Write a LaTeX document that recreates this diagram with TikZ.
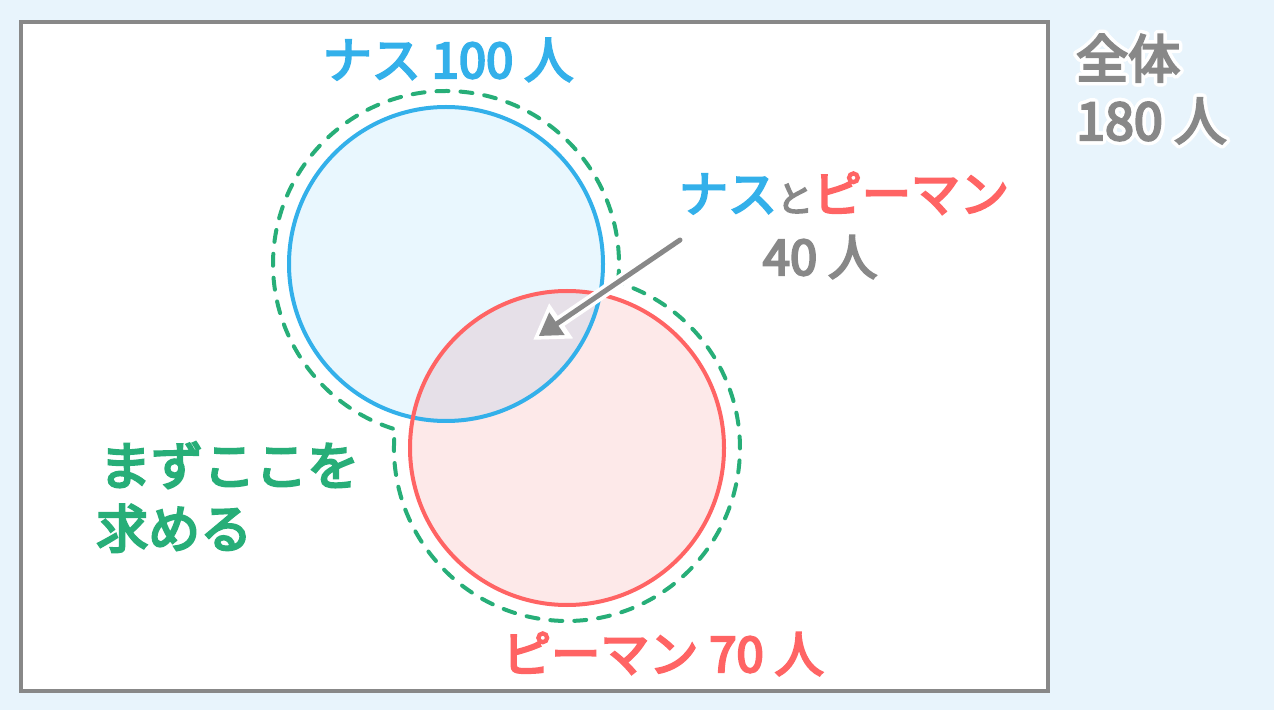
\documentclass[tikz,border=0pt]{standalone}
\usepackage{fontspec}
\newfontfamily\jp{Noto Sans CJK JP}[FakeBold=4.5]
\usetikzlibrary{arrows.meta}
\definecolor{bgc}{HTML}{E8F4FC}
\definecolor{graybd}{HTML}{888888}
\definecolor{graytx}{HTML}{888888}
\definecolor{bluec}{HTML}{33B0EA}
\definecolor{bluefill}{HTML}{E9F7FE}
\definecolor{redc}{HTML}{FF6464}
\definecolor{redfill}{HTML}{FDE9E9}
\definecolor{overlapc}{HTML}{E6E0E8}
\definecolor{greenc}{HTML}{27AE78}
\begin{document}
\begin{tikzpicture}[x=1pt,y=1pt,
  lbl/.style={inner sep=0pt, font=\jp\fontsize{49}{49}\selectfont},
  biglbl/.style={inner sep=0pt, font=\jp\fontsize{52}{52}\selectfont},
  ring/.style={line width=4pt},
  outlinedash/.style={greenc, line width=4pt, line cap=round, dash pattern=on 12pt off 12pt}]
\useasboundingbox (0,0) rectangle (1274,710);
\fill[bgc] (0,0) rectangle (1274,710);
\draw[line width=4pt, graybd, fill=white] (21,19) rectangle (1048,688);
\coordinate (A) at (446,446);
\coordinate (B) at (567,262);
\fill[bluefill] (A) circle[radius=157];
\fill[redfill] (B) circle[radius=157];
\begin{scope}
  \clip (A) circle[radius=157];
  \fill[overlapc] (B) circle[radius=157];
\end{scope}
\draw[ring, bluec] (A) circle[radius=157];
\draw[ring, redc] (B) circle[radius=157];
% dashed outline of union (offset 16)
\draw[outlinedash] (A) ++(-6.2:173) arc[start angle=-6.2, end angle=252.85, radius=173]
  arc[start angle=173.8, end angle=432.85, radius=173] -- cycle;
% arrow
\coordinate (arS) at (680,470);
\coordinate (arE) at (533,370);
\draw[white, line width=12pt, -{Triangle[length=34pt,width=40pt]}] (arS) -- (arE);
\draw[graytx, line width=5pt, line cap=round, shorten >=7pt, -{Triangle[length=22pt,width=26pt]}] (arS) -- (arE);
% labels
\node[lbl, bluec, anchor=base] (nasu) at (448,632) {ナス 100 人};
\node[lbl, redc, anchor=base] (piman) at (663,38) {ピーマン 70 人};
\node[lbl, anchor=base] (both) at (844,498) {\textcolor{bluec}{ナス}\textcolor{graytx}{\fontsize{36}{36}\selectfont と}\textcolor{redc}{ピーマン}};
\node[lbl, graytx, anchor=base] (forty) at (820,435) {40 人};
\node[biglbl, greenc, anchor=base west] (first1) at (99,225) {まずここを};
\node[biglbl, greenc, anchor=base west] (first2) at (96,162) {求める};
\foreach \a in {0,22.5,...,337.5} {
  \node[biglbl, white, anchor=base west, shift={(\a:3.5)}] at (1076,632) {全体};
  \node[biglbl, white, anchor=base west, shift={(\a:3.5)}] at (1076,570) {180 人};
}
\node[biglbl, graytx, anchor=base west] (zen1) at (1076,632) {全体};
\node[biglbl, graytx, anchor=base west] (zen2) at (1076,570) {180 人};
\end{tikzpicture}
\end{document}
